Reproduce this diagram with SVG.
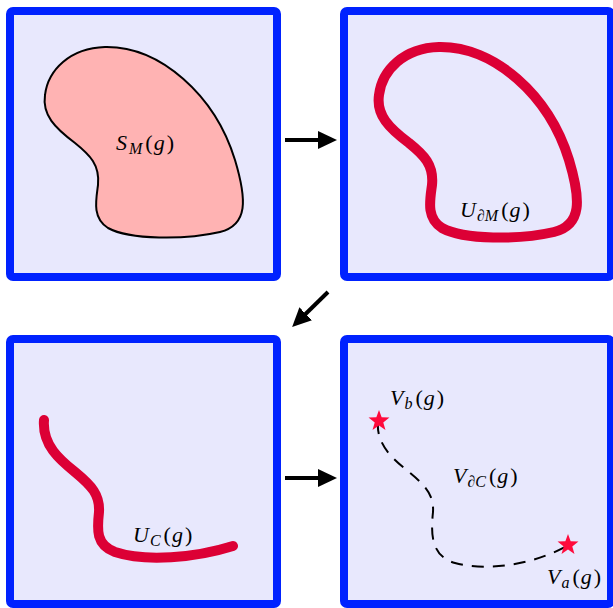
<svg xmlns="http://www.w3.org/2000/svg" width="613" height="608" viewBox="0 0 613 608">
<style>
.panel{fill:#e8e8fd;stroke:#0022ff;stroke-width:8;stroke-linejoin:round}
.lbl{font-family:"Liberation Serif","DejaVu Serif",serif;font-style:italic;font-size:22px;fill:#000}
.sub{font-size:16px}
.up{font-style:normal}
.curve{fill:none;stroke:#dc0035;stroke-width:10;stroke-linecap:round;stroke-linejoin:round}
.arrow{stroke:#000;stroke-width:4;fill:none}
.star{fill:#ff0a3c}
</style>
<defs>
<marker id="ah" markerWidth="20" markerHeight="20" viewBox="0 0 20 20" refX="1" refY="10" markerUnits="userSpaceOnUse" orient="auto">
<path d="M0,1 L19,10 L0,19 Z" fill="#000"/>
</marker>
<polygon id="starShape" points="0,-11 2.65,-3.64 10.46,-3.4 4.28,1.39 6.47,8.9 0,4.5 -6.47,8.9 -4.28,1.39 -10.46,-3.4 -2.65,-3.64"/>
</defs>
<g id="panel-SM">
<rect class="panel" x="10" y="11" width="267" height="266" rx="3"/>
<path d="M45,95 C48,70 70,48 105,47 C160,46 215,95 235,160 C247,200 248,225 220,232 C185,240 130,240 108,228 C92,218 96,200 98,185 C100,165 90,155 75,143 C55,128 42,115 45,95 Z" fill="#ffb3b3" stroke="#000" stroke-width="2"/>
<text class="lbl" x="116" y="150">S<tspan class="sub" dx="2" dy="4">M</tspan><tspan dx="3" dy="-4" class="up">(</tspan><tspan dx="1">g</tspan><tspan dx="2" class="up">)</tspan></text>
</g>
<g id="panel-UdM">
<rect class="panel" x="344" y="11" width="267" height="266" rx="3"/>
<path class="curve" d="M379,95 C382,70 404,48 439,47 C494,46 549,95 569,160 C581,200 582,225 554,232 C519,240 464,240 442,228 C426,218 430,200 432,185 C434,165 424,155 409,143 C389,128 376,115 379,95 Z"/>
<text class="lbl" x="460" y="217">U<tspan class="sub" dx="1" dy="4">∂M</tspan><tspan dx="3" dy="-4" class="up">(</tspan><tspan dx="1">g</tspan><tspan dx="2" class="up">)</tspan></text>
</g>
<g id="panel-UC">
<rect class="panel" x="10" y="339" width="267" height="265" rx="3"/>
<path class="curve" d="M44,420 C42,445 60,460 75,472 C92,486 100,495 99,512 C97,530 96,545 115,552 C145,562 195,558 233,546"/>
<text class="lbl" x="133" y="542">U<tspan class="sub" dx="1" dy="4">C</tspan><tspan dx="3" dy="-4" class="up">(</tspan><tspan dx="1">g</tspan><tspan dx="2" class="up">)</tspan></text>
</g>
<g id="panel-VdC">
<rect class="panel" x="344" y="339" width="267" height="265" rx="3"/>
<path d="M378,422 C376,445 394,460 409,472 C426,486 434,495 433,512 C431,532 430,556 455,563 C485,571 530,566 567,546" fill="none" stroke="#000" stroke-width="2" stroke-dasharray="12,9"/>
<use href="#starShape" class="star" x="379" y="421"/>
<use href="#starShape" class="star" x="568" y="545"/>
<text class="lbl" x="390" y="405">V<tspan class="sub" dx="1" dy="4">b</tspan><tspan dx="3" dy="-4" class="up">(</tspan><tspan dx="1">g</tspan><tspan dx="2" class="up">)</tspan></text>
<text class="lbl" x="453" y="483">V<tspan class="sub" dx="1" dy="4">∂C</tspan><tspan dx="3" dy="-4" class="up">(</tspan><tspan dx="1">g</tspan><tspan dx="2" class="up">)</tspan></text>
<text class="lbl" x="547" y="584">V<tspan class="sub" dx="1" dy="4">a</tspan><tspan dx="3" dy="-4" class="up">(</tspan><tspan dx="1">g</tspan><tspan dx="2" class="up">)</tspan></text>
</g>
<g id="connectors">
<path class="arrow" d="M285,140 L319,140" marker-end="url(#ah)"/>
<path class="arrow" d="M328,292 L305,314.5" marker-end="url(#ah)"/>
<path class="arrow" d="M285,478 L319,478" marker-end="url(#ah)"/>
</g>
</svg>
